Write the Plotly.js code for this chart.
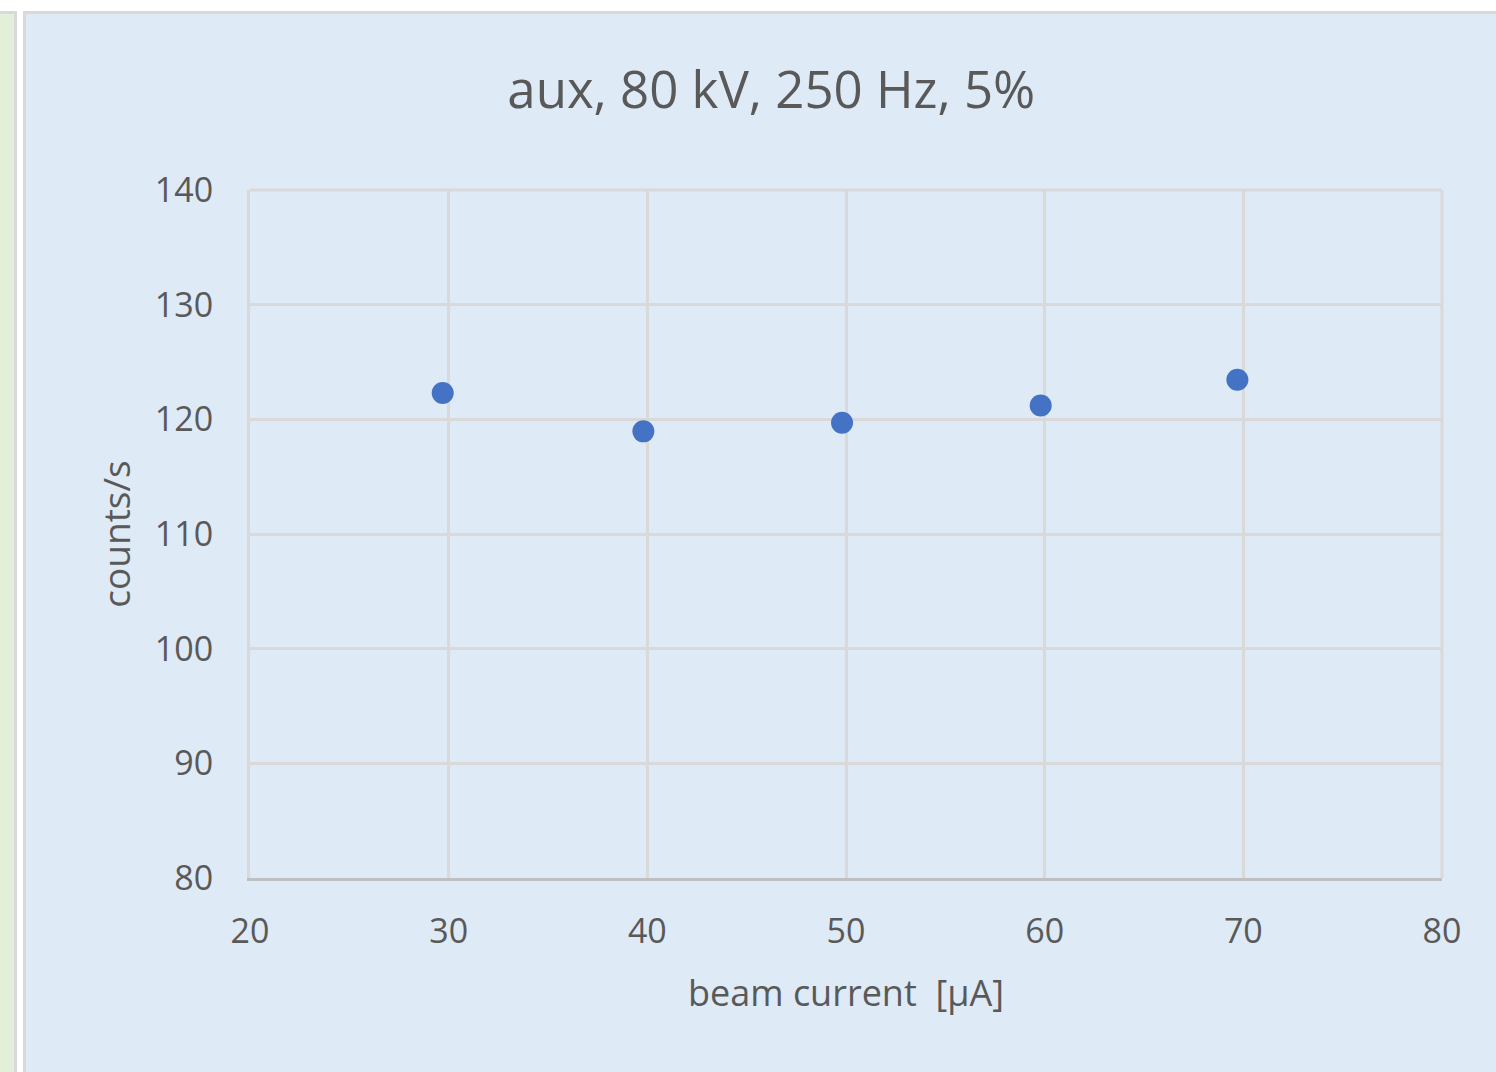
<!DOCTYPE html>
<html>
<head>
<meta charset="utf-8">
<script src="https://cdn.plot.ly/plotly-3.0.1.min.js"></script>
<style>
  html, body { margin: 0; padding: 0; width: 1496px; height: 1072px; overflow: hidden; background: #ffffff; }
  #green { position: absolute; left: 0; top: 11px; width: 14px; height: 1061px; background: #e2efd9; border-right: 3px solid #d9d9d9; border-top: 3px solid #d9d9d9; }
  #panel { position: absolute; left: 23px; top: 11px; width: 1473px; height: 1061px; background: #deeaf6; border-left: 3px solid #d9d9d9; border-top: 3px solid #d9d9d9; box-sizing: border-box; }
  #chart { position: absolute; left: 26px; top: 14px; width: 1470px; height: 1058px; }
</style>
</head>
<body>
<div id="green"></div>
<div id="panel"></div>
<div id="chart"></div>
<script>
const beamCurrent = [29.7, 39.8, 49.8, 59.8, 69.7];
const countsPerSec = [122.3, 118.95, 119.7, 121.2, 123.45];
const xTicks = [20, 30, 40, 50, 60, 70, 80];
const yTicks = [80, 90, 100, 110, 120, 130, 140];

const textColor = '#595959';
const fontFam = '"Open Sans", "Noto Sans", sans-serif';

const trace = {
  x: beamCurrent,
  y: countsPerSec,
  type: 'scatter',
  mode: 'markers',
  marker: { color: '#4472c4', size: 22 },
  hoverinfo: 'skip'
};

const layout = {
  width: 1470,
  height: 1058,
  paper_bgcolor: 'rgba(0,0,0,0)',
  plot_bgcolor: 'rgba(0,0,0,0)',
  margin: { l: 224, r: 54, t: 176, b: 194 },
  showlegend: false,
  title: {
    text: 'aux, 80 kV, 250 Hz, 5%',
    font: { family: fontFam, size: 51, color: textColor },
    x: 0.507, xanchor: 'center', xref: 'container', y: 0.928, yanchor: 'middle', yref: 'container'
  },
  xaxis: {
    range: [20, 80],
    tickvals: xTicks,
    ticktext: xTicks.map(String),
    showgrid: true, gridcolor: '#d9d9d9', gridwidth: 3,
    showline: true, linecolor: '#bfbfbf', linewidth: 3,
    mirror: false, zeroline: false,
    ticks: '', ticklabelstandoff: 21,
    tickfont: { family: fontFam, size: 34, color: textColor },
    title: { text: 'beam current\u00a0 [µA]', font: { family: fontFam, size: 36, color: textColor }, standoff: 30 }
  },
  yaxis: {
    range: [80, 140],
    tickvals: yTicks,
    ticktext: yTicks.map(String),
    showgrid: true, gridcolor: '#d9d9d9', gridwidth: 3,
    showline: true, linecolor: '#d9d9d9', linewidth: 3,
    zeroline: false,
    ticks: '', ticklabelstandoff: 27,
    tickfont: { family: fontFam, size: 34, color: textColor },
    title: { text: 'counts/s', font: { family: fontFam, size: 37, color: textColor }, standoff: 13 }
  },
  shapes: [
    { type: 'line', xref: 'paper', yref: 'paper', x0: 0, x1: 1, y0: 1, y1: 1, line: { color: '#d9d9d9', width: 3 } },
    { type: 'line', xref: 'paper', yref: 'paper', x0: 1, x1: 1, y0: 0, y1: 1, line: { color: '#d9d9d9', width: 3 } }
  ]
};

Plotly.newPlot('chart', [trace], layout, { staticPlot: true, displayModeBar: false });
</script>
</body>
</html>
